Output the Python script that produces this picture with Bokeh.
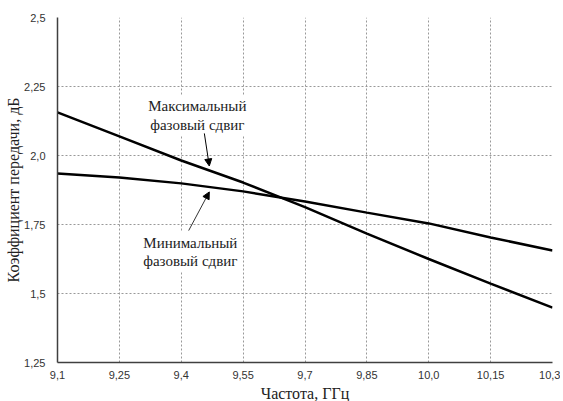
from bokeh.plotting import figure
from bokeh.models import FixedTicker, Label, Arrow, NormalHead, Title, Range1d
from bokeh.embed import file_html
from bokeh.resources import INLINE

# Data
freq = [9.1, 9.25, 9.4, 9.55, 9.7, 9.85, 10.0, 10.15, 10.3]
gain_max_phase = [2.156, 2.069, 1.982, 1.902, 1.813, 1.717, 1.625, 1.536, 1.449]
gain_min_phase = [1.935, 1.920, 1.899, 1.870, 1.833, 1.793, 1.754, 1.703, 1.656]

x_ticks = [9.1, 9.25, 9.4, 9.55, 9.7, 9.85, 10.0, 10.15, 10.3]
x_tick_labels = ["9,1", "9,25", "9,4", "9,55", "9,7", "9,85", "10,0", "10,15", "10,3"]
y_ticks = [1.25, 1.5, 1.75, 2.0, 2.25, 2.5]
y_tick_labels = ["1,25", "1,5", "1,75", "2,0", "2,25", "2,5"]

x_title = "Частота, ГГц"
y_title = "Коэффициент передачи, дБ"
label_max = ["Максимальный", "фазовый сдвиг"]
label_min = ["Минимальный", "фазовый сдвиг"]

SERIF = "Liberation Serif"
SANS = "Liberation Sans"

p = figure(frame_width=495, frame_height=345, output_backend="svg", toolbar_location=None,
           x_range=Range1d(9.1, 10.3), y_range=Range1d(1.25, 2.5),
           min_border_left=57, min_border_right=8, min_border_top=17, min_border_bottom=30)
p.title.visible = False
p.outline_line_color = None
p.background_fill_color = "white"
p.border_fill_color = "white"

# axes
p.xaxis.ticker = FixedTicker(ticks=x_ticks)
p.yaxis.ticker = FixedTicker(ticks=y_ticks)
p.xaxis.major_label_overrides = {t: l for t, l in zip(x_ticks, x_tick_labels)}
p.yaxis.major_label_overrides = {t: l for t, l in zip(y_ticks, y_tick_labels)}
for ax in (p.xaxis, p.yaxis):
    ax.major_tick_line_color = None
    ax.minor_tick_line_color = None
    ax.major_tick_out = 0
    ax.major_tick_in = 0
    ax.axis_line_color = "#404040"
    ax.axis_line_width = 1.5
    ax.major_label_text_font = SANS
    ax.major_label_text_font_size = "11px"
    ax.major_label_text_color = "#333333"
p.xaxis.major_label_standoff = 8
p.yaxis.major_label_standoff = 12

# grid
for g in (p.xgrid, p.ygrid):
    g.grid_line_color = "#999999"
    g.grid_line_dash = "2 2"
    g.grid_line_width = 1

# curves
p.line(freq, gain_max_phase, line_color="black", line_width=2.5)
p.line(freq, gain_min_phase, line_color="black", line_width=2.5)

# axis titles
p.add_layout(Title(text=x_title, align="center", offset=25, standoff=3, text_font=SERIF,
                   text_font_size="16px", text_font_style="normal", text_color="#222222"), "below")
p.add_layout(Title(text=y_title, align="center", offset=-18, standoff=0, text_font=SERIF,
                   text_font_size="16px", text_font_style="normal", text_color="#222222"), "left")

# annotation labels
def add_label(x, y, txt):
    p.add_layout(Label(x=x, y=y, text=txt, text_font=SERIF, text_font_size="15px",
                       text_align="center", text_baseline="middle", text_color="#222222",
                       background_fill_color="white", padding=3))

add_label(9.439, 2.178, label_max[0])
add_label(9.439, 2.112, label_max[1])
add_label(9.422, 1.684, label_min[0])
add_label(9.422, 1.618, label_min[1])

# arrows
p.add_layout(Arrow(end=NormalHead(size=7, fill_color="black", line_color="black"),
                   x_start=9.456, y_start=2.080, x_end=9.468, y_end=1.962,
                   line_color="black", line_width=1))
p.add_layout(Arrow(end=NormalHead(size=7, fill_color="black", line_color="black"),
                   x_start=9.418, y_start=1.728, x_end=9.468, y_end=1.868,
                   line_color="#333333", line_width=1))

open("out.html", "w").write(file_html(p, INLINE))
